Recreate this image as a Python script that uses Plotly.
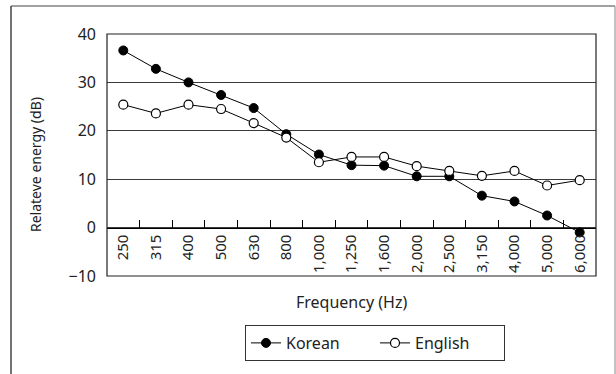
import plotly.graph_objects as go

# Frequency bands (Hz) and relative energy (dB) per language
frequencies = ["250", "315", "400", "500", "630", "800", "1,000", "1,250",
               "1,600", "2,000", "2,500", "3,150", "4,000", "5,000", "6,000"]
korean = [36.6, 32.8, 30.0, 27.4, 24.7, 19.3, 15.1, 12.9, 12.8, 10.6, 10.6, 6.6, 5.4, 2.5, -1.0]
english = [25.4, 23.6, 25.4, 24.5, 21.6, 18.6, 13.5, 14.6, 14.6, 12.7, 11.7, 10.7, 11.7, 8.7, 9.8]

W, H = 616, 374
L, R, T, B = 107, 20, 34, 98
FONT = "Noto Sans"
INK = "#222222"

fig = go.Figure()
fig.add_trace(go.Scatter(
    x=frequencies, y=korean, name="Korean", mode="lines+markers",
    line=dict(color="black", width=1),
    marker=dict(symbol="circle", size=9, color="black", line=dict(color="black", width=1)),
    cliponaxis=False,
))
fig.add_trace(go.Scatter(
    x=frequencies, y=english, name="English", mode="lines+markers",
    line=dict(color="black", width=1),
    marker=dict(symbol="circle", size=9, color="white", line=dict(color="black", width=1.2)),
    cliponaxis=False,
))

pw = W - L - R
ph = H - T - B


def px_x(px):
    return (px - L) / pw


def px_y(py):
    return (H - B - py) / ph


# the category axis sits on the 0 dB line
zero_pos = 10 / 50

fig.update_layout(
    width=W, height=H,
    margin=dict(l=L, r=R, t=T, b=B),
    paper_bgcolor="white", plot_bgcolor="white",
    font=dict(family=FONT, color=INK, size=14),
    showlegend=True,
    legend=dict(
        orientation="h", x=px_x(375), xanchor="center", y=px_y(325), yanchor="top",
        bordercolor="#333333", borderwidth=1, bgcolor="white",
        font=dict(size=16, color=INK),
        entrywidth=84, entrywidthmode="pixels",
    ),
    xaxis=dict(
        type="category", anchor="free", position=zero_pos,
        range=[-0.5, len(frequencies) - 0.5],
        showline=True, linecolor="black", linewidth=1,
        ticks="inside", ticklen=8, tickcolor="black", tickwidth=1,
        tickson="boundaries", showgrid=False, zeroline=False,
        tickangle=-90, tickfont=dict(size=15, color=INK),
        ticklabelstandoff=0,
    ),
    yaxis=dict(
        range=[-10, 40], dtick=10, showgrid=True, gridcolor="#3a3a3a", gridwidth=1,
        zeroline=False, showline=False, ticks="", tickfont=dict(size=16, color=INK),
        ticklabelstandoff=10,
    ),
    annotations=[
        dict(text="Frequency (Hz)", x=0.5, y=px_y(302), xref="paper", yref="paper",
             xanchor="center", yanchor="middle", showarrow=False,
             font=dict(size=16, color=INK)),
        dict(text="Relateve energy (dB)", x=px_x(35), y=px_y(165), xref="paper", yref="paper",
             xanchor="center", yanchor="middle", showarrow=False, textangle=-90,
             font=dict(size=14, color=INK)),
    ],
    shapes=[
        # plot area border
        dict(type="rect", xref="x domain", yref="y domain", x0=0, x1=1, y0=0, y1=1,
             line=dict(color="#222222", width=1.2), layer="above"),
        # outer frame (left, top, right)
        dict(type="line", xref="paper", yref="paper", x0=px_x(11), x1=px_x(11),
             y0=px_y(6), y1=px_y(380), line=dict(color="#444444", width=1.5)),
        dict(type="line", xref="paper", yref="paper", x0=px_x(11), x1=px_x(615),
             y0=px_y(6), y1=px_y(6), line=dict(color="#444444", width=1.2)),
        dict(type="line", xref="paper", yref="paper", x0=px_x(615), x1=px_x(615),
             y0=px_y(6), y1=px_y(380), line=dict(color="#9a9a9a", width=1.2)),
    ],
)

fig.write_html("out.html")
